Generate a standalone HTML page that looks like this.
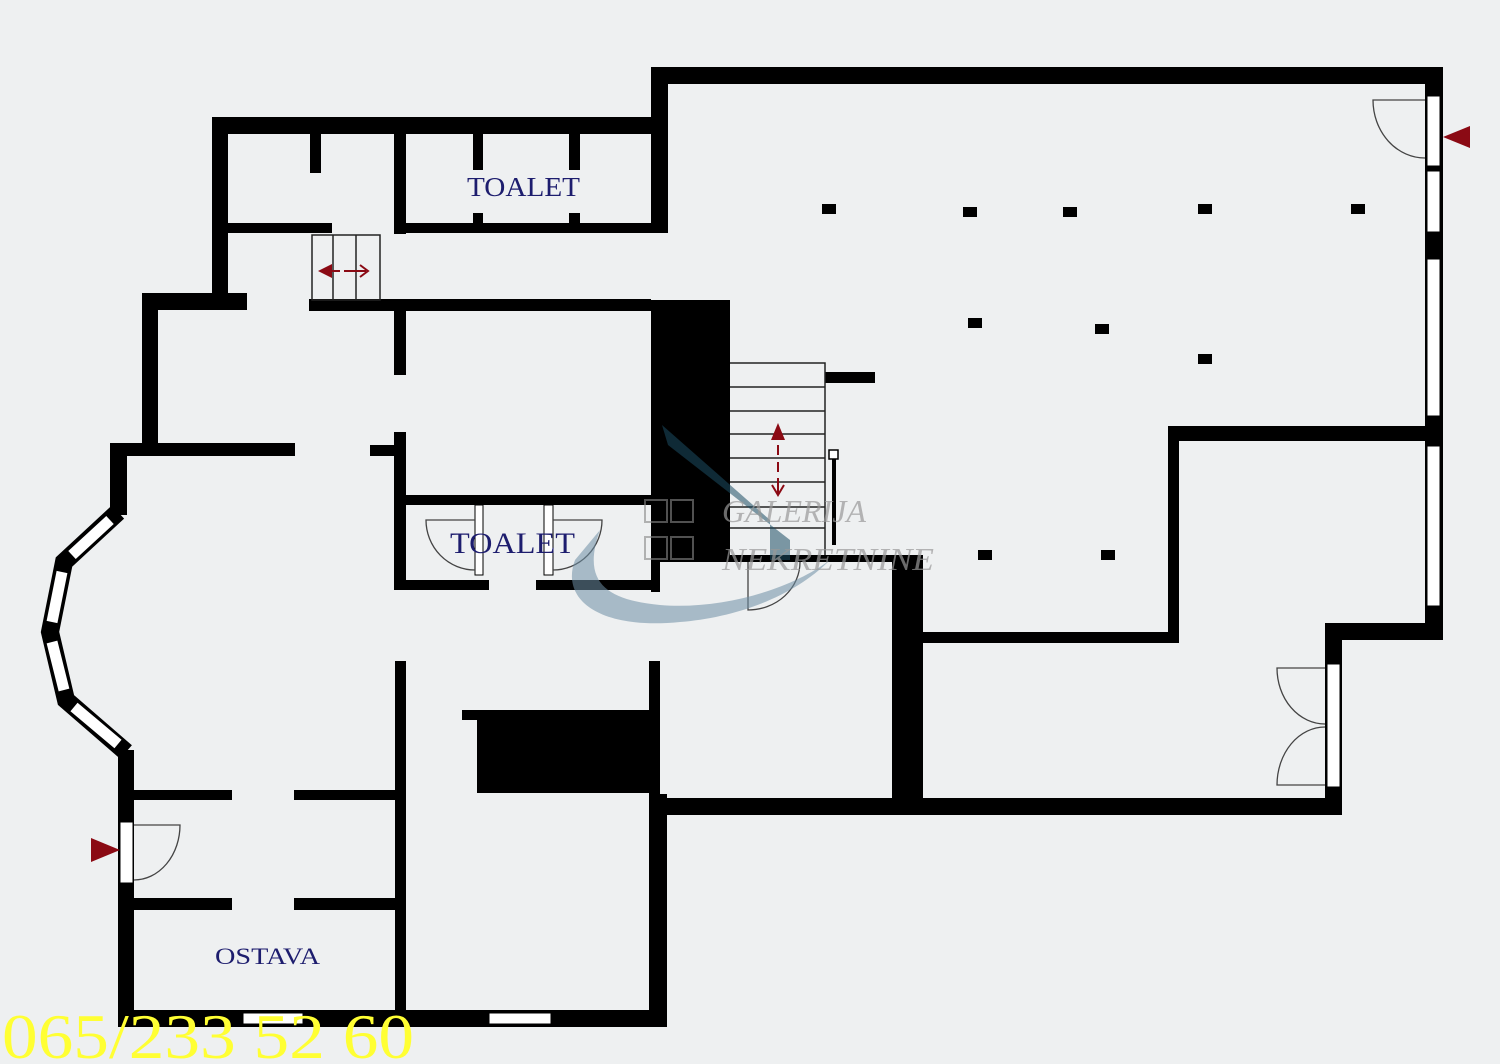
<!DOCTYPE html>
<html><head><meta charset="utf-8"><style>
html,body{margin:0;padding:0;background:#eef0f1;}
svg{display:block;}
</style></head><body>
<svg width="1500" height="1064" viewBox="0 0 1500 1064" xmlns="http://www.w3.org/2000/svg">
<rect width="1500" height="1064" fill="#eef0f1"/>
<g fill="#000">
<!-- right block -->
<rect x="651" y="67" width="792" height="17"/>
<rect x="1425" y="67" width="18" height="573"/>
<rect x="1325" y="623" width="118" height="17"/>
<rect x="1325" y="623" width="17" height="192"/>
<rect x="651" y="798" width="691" height="17"/>
<rect x="651" y="67" width="17" height="166"/>
<!-- top left -->
<rect x="212" y="117" width="456" height="17"/>
<rect x="212" y="117" width="16" height="193"/>
<rect x="310" y="133" width="11" height="40"/>
<rect x="394" y="117" width="12" height="117"/>
<rect x="394" y="223" width="274" height="10"/>
<rect x="473" y="133" width="10" height="37"/>
<rect x="473" y="213" width="10" height="10"/>
<rect x="569" y="133" width="11" height="37"/>
<rect x="569" y="213" width="11" height="10"/>
<rect x="228" y="223" width="104" height="10"/>
<rect x="309" y="299" width="342" height="12"/>
<rect x="143" y="293" width="104" height="17"/>
<rect x="142" y="293" width="16" height="160"/>
<rect x="394" y="311" width="12" height="64"/>
<rect x="394" y="432" width="12" height="158"/>
<rect x="370" y="445" width="24" height="11"/>
<rect x="111" y="443" width="184" height="13"/>
<rect x="110" y="443" width="17" height="72"/>
<rect x="394" y="495" width="257" height="10"/>
<rect x="394" y="580" width="95" height="10"/>
<rect x="536" y="580" width="124" height="10"/>
<rect x="651" y="300" width="79" height="262"/>
<rect x="651" y="560" width="9" height="32"/>
<rect x="730" y="555" width="193" height="7"/>
<rect x="892" y="560" width="31" height="240"/>
<rect x="910" y="632" width="269" height="11"/>
<rect x="1168" y="426" width="11" height="217"/>
<rect x="1168" y="426" width="257" height="15"/>
<rect x="825" y="372" width="50" height="11"/>
<!-- bottom left -->
<rect x="118" y="750" width="16" height="277"/>
<rect x="134" y="790" width="98" height="10"/>
<rect x="294" y="790" width="101" height="10"/>
<rect x="134" y="898" width="98" height="12"/>
<rect x="294" y="898" width="101" height="12"/>
<rect x="395" y="661" width="11" height="366"/>
<rect x="118" y="1010" width="549" height="17"/>
<rect x="649" y="661" width="11" height="140"/>
<rect x="649" y="794" width="18" height="233"/>
<rect x="477" y="710" width="172" height="83"/>
<rect x="462" y="710" width="15" height="10"/>
<!-- pillars -->
<rect x="822" y="204" width="14" height="10"/>
<rect x="963" y="207" width="14" height="10"/>
<rect x="1063" y="207" width="14" height="10"/>
<rect x="1198" y="204" width="14" height="10"/>
<rect x="1351" y="204" width="14" height="10"/>
<rect x="968" y="318" width="14" height="10"/>
<rect x="1095" y="324" width="14" height="10"/>
<rect x="1198" y="354" width="14" height="10"/>
<rect x="978" y="550" width="14" height="10"/>
<rect x="1101" y="550" width="14" height="10"/>
</g>
<!-- windows / door openings -->
<g fill="#fff" stroke="#000" stroke-width="1">
<rect x="1427" y="96" width="13" height="70"/>
<rect x="1427" y="171" width="13" height="61"/>
<rect x="1427" y="259" width="13" height="157"/>
<rect x="1427" y="446" width="13" height="160"/>
<rect x="1327" y="664" width="13" height="123"/>
<rect x="120" y="822" width="13" height="61"/>
<rect x="243" y="1013" width="60" height="11"/>
<rect x="489" y="1013" width="62" height="11"/>
<rect x="475" y="505" width="8" height="70"/>
<rect x="544" y="505" width="9" height="70"/>
</g>
<!-- bay window -->
<polyline points="118,512 64,562 50,632 66,700 126,752" fill="none" stroke="#000" stroke-width="18" stroke-linejoin="miter"/>
<g stroke="#fff" stroke-width="11" fill="none">
<line x1="110" y1="520" x2="72" y2="555"/>
<line x1="62" y1="572" x2="52" y2="622"/>
<line x1="52" y1="642" x2="64" y2="690"/>
<line x1="74" y1="707" x2="118" y2="744"/>
</g>
<!-- stairs -->
<g fill="none" stroke="#222" stroke-width="1.5">
<rect x="312" y="235" width="68" height="65"/>
<line x1="333" y1="235" x2="333" y2="300"/>
<line x1="356" y1="235" x2="356" y2="300"/>
<polyline points="730,363 825,363 825,555"/>
<line x1="730" y1="387" x2="825" y2="387"/>
<line x1="730" y1="411" x2="825" y2="411"/>
<line x1="730" y1="434" x2="825" y2="434"/>
<line x1="730" y1="458" x2="825" y2="458"/>
<line x1="730" y1="482" x2="825" y2="482"/>
<line x1="730" y1="507" x2="825" y2="507"/>
<line x1="730" y1="528" x2="825" y2="528"/>
</g>
<rect x="832" y="455" width="4" height="90" fill="#000"/>
<rect x="829" y="450" width="9" height="9" fill="#fff" stroke="#000" stroke-width="1.5"/>
<!-- door arcs -->
<g fill="none" stroke="#444" stroke-width="1.3">
<path d="M1425,100 L1373,100 A52,58 0 0 0 1425,158"/>
<path d="M134,825 L180,825 A46,55 0 0 1 134,880"/>
<path d="M1325,668 L1277,668 A48,56 0 0 0 1325,724"/>
<path d="M1325,785 L1277,785 A48,58 0 0 1 1325,727"/>
<path d="M475,520 L426,520 A49,50 0 0 0 475,570"/>
<path d="M553,520 L602,520 A49,50 0 0 1 553,570"/>
<path d="M748,562 L748,610 A52,48 0 0 0 800,562"/>
</g>
<!-- red arrows -->
<g fill="#8b0a14">
<polygon points="1443,137 1470,126 1470,148"/>
<polygon points="120,850 91,838 91,862"/>
<polygon points="318,271 332,264 332,278"/>
<polygon points="778,423 771,440 785,440"/>
</g>
<g stroke="#8b0a14" stroke-width="2" fill="none">
<line x1="332" y1="271" x2="340" y2="271"/>
<line x1="344" y1="271" x2="366" y2="271"/>
<polyline points="360,265 368,271 360,277"/>
<line x1="778" y1="445" x2="778" y2="455"/>
<line x1="778" y1="462" x2="778" y2="472"/>
<line x1="778" y1="478" x2="778" y2="494"/>
<polyline points="772,485 778,495 784,485"/>
</g>
<!-- watermark -->
<path d="M662,425 L668,445 L790,540 L790,560 L770,560 L770,520 Z" fill="#1c4d62" opacity="0.55"/>
<path d="M575,560 C560,600 600,630 680,622 C730,618 790,600 830,560 C790,590 720,610 660,605 C610,600 580,585 600,530 Z" fill="#6e8ea4" opacity="0.55"/>
<g fill="none" stroke="#888" stroke-width="2" opacity="0.6">
<rect x="645" y="500" width="22" height="22"/><rect x="671" y="500" width="22" height="22"/>
<rect x="645" y="537" width="22" height="22"/><rect x="671" y="537" width="22" height="22"/>
</g>
<g font-family="'Liberation Serif',serif" font-style="italic" fill="#999" opacity="0.7" font-size="32">
<text x="722" y="522">GALERIJA</text>
<text x="722" y="570" textLength="212" lengthAdjust="spacingAndGlyphs">NEKRETNINE</text>
</g>
<!-- labels -->
<g font-family="'Liberation Serif',serif" fill="#1d1d6e">
<text x="467" y="196" font-size="27" textLength="113" lengthAdjust="spacingAndGlyphs">TOALET</text>
<text x="450" y="553" font-size="30" textLength="125" lengthAdjust="spacingAndGlyphs">TOALET</text>
<text x="215" y="964" font-size="23" textLength="105" lengthAdjust="spacingAndGlyphs">OSTAVA</text>
</g>
<text x="2" y="1058" font-family="'Liberation Serif',serif" font-size="64" fill="#ffff33" textLength="412" lengthAdjust="spacingAndGlyphs">065/233 52 60</text>
</svg>
</body></html>
